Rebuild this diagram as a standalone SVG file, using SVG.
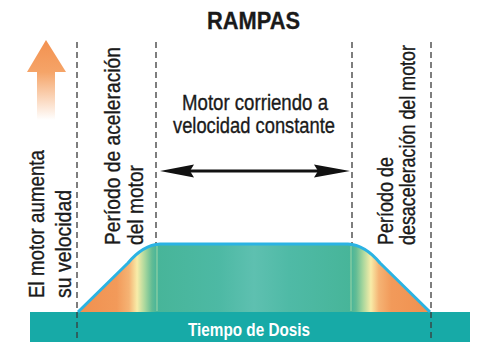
<svg xmlns="http://www.w3.org/2000/svg" width="477" height="342" viewBox="0 0 477 342">
<style>
.lbl{font-family:"Liberation Sans",Arial,sans-serif;font-size:22px;fill:#1a1a1a;stroke:#1a1a1a;stroke-width:0.35}
.ttl{font-family:"Liberation Sans",Arial,sans-serif;font-size:23px;font-weight:bold;fill:#1a1a1a;stroke:#1a1a1a;stroke-width:0.3}
.bar{font-family:"Liberation Sans",Arial,sans-serif;font-size:17.5px;font-weight:bold;fill:#ffffff}
.dash{stroke:#3a3a3a;stroke-width:1.3;stroke-dasharray:6 4;fill:none}
</style>
<defs>
<linearGradient id="rampFill" gradientUnits="userSpaceOnUse" x1="78" y1="0" x2="430" y2="0">
<stop offset="0" stop-color="#f0904f"/>
<stop offset="0.11" stop-color="#f29a5a"/>
<stop offset="0.145" stop-color="#f5b374"/>
<stop offset="0.168" stop-color="#f8eca8"/>
<stop offset="0.19" stop-color="#a9d79d"/>
<stop offset="0.21" stop-color="#62bc95"/>
<stop offset="0.224" stop-color="#47b599"/>
<stop offset="0.4" stop-color="#4db9a4"/>
<stop offset="0.5" stop-color="#5ec0b0"/>
<stop offset="0.6" stop-color="#4fbaa6"/>
<stop offset="0.776" stop-color="#47b599"/>
<stop offset="0.79" stop-color="#62bc95"/>
<stop offset="0.81" stop-color="#a9d79d"/>
<stop offset="0.832" stop-color="#f8eca8"/>
<stop offset="0.855" stop-color="#f5b374"/>
<stop offset="0.89" stop-color="#f29a5a"/>
<stop offset="1" stop-color="#f0904f"/>
</linearGradient>
<linearGradient id="upFill" gradientUnits="userSpaceOnUse" x1="0" y1="40" x2="0" y2="120">
<stop offset="0" stop-color="#f39150"/>
<stop offset="0.4" stop-color="#f5a468"/>
<stop offset="1" stop-color="#ffffff"/>
</linearGradient>
</defs>

<g id="title"><text class="ttl" x="253.5" y="29" text-anchor="middle" textLength="93" lengthAdjust="spacingAndGlyphs">RAMPAS</text></g>

<g id="time-bar">
<rect x="30" y="312" width="440" height="30" fill="#17aaa7"/>
<text class="bar" x="249" y="336" text-anchor="middle" textLength="122" lengthAdjust="spacingAndGlyphs">Tiempo de Dosis</text>
</g>

<g id="guides">
<line class="dash" x1="77" y1="42" x2="77" y2="342"/>
<line class="dash" x1="156" y1="42" x2="156" y2="246"/>
<line class="dash" x1="352" y1="42" x2="352" y2="246"/>
<line class="dash" x1="431" y1="42" x2="431" y2="342"/>
</g>

<g id="ramp">
<path d="M78,312 L128,263 Q143,245 160,244 L348,244 Q365,245 380,263 L430,312 Z" fill="url(#rampFill)"/>
<line x1="157" y1="246" x2="157" y2="311" stroke="#d6ecae" stroke-width="0.8" opacity="0.8"/>
<line x1="351" y1="246" x2="351" y2="311" stroke="#d6ecae" stroke-width="0.8" opacity="0.8"/>
<path d="M78,312 L128,263 Q143,245 160,244 L348,244 Q365,245 380,263 L430,312" fill="none" stroke="#2bb3e3" stroke-width="3" stroke-linejoin="round"/>
</g>

<g id="speed-up-arrow">
<polygon points="46,40 66,72 55,72 55,120 37,120 37,72 27,72" fill="url(#upFill)"/>
</g>

<g id="label-aumenta">
<text class="lbl" transform="translate(44,298) rotate(-90)" textLength="148" lengthAdjust="spacingAndGlyphs">El motor aumenta</text>
<text class="lbl" transform="translate(71,298) rotate(-90)" textLength="108" lengthAdjust="spacingAndGlyphs">su velocidad</text>
</g>

<g id="label-aceleracion">
<text class="lbl" transform="translate(120,245) rotate(-90)" textLength="198" lengthAdjust="spacingAndGlyphs">Período de aceleración</text>
<text class="lbl" transform="translate(143,245) rotate(-90)" textLength="80" lengthAdjust="spacingAndGlyphs">del motor</text>
</g>

<g id="label-constante">
<text class="lbl" x="255" y="110" text-anchor="middle" textLength="146" lengthAdjust="spacingAndGlyphs">Motor corriendo a</text>
<text class="lbl" x="254" y="133" text-anchor="middle" textLength="162" lengthAdjust="spacingAndGlyphs">velocidad constante</text>
</g>

<g id="label-desaceleracion">
<text class="lbl" transform="translate(393,245) rotate(-90)" textLength="88" lengthAdjust="spacingAndGlyphs">Período de</text>
<text class="lbl" transform="translate(415,245) rotate(-90)" textLength="200" lengthAdjust="spacingAndGlyphs">desaceleración del motor</text>
</g>

<g id="connectors">
<line x1="185" y1="171" x2="323" y2="171" stroke="#111" stroke-width="3"/>
<polygon points="160,171 194,164.5 190,171 194,177.5" fill="#111"/>
<polygon points="350,171 314,164.5 318,171 314,177.5" fill="#111"/>
</g>
</svg>
